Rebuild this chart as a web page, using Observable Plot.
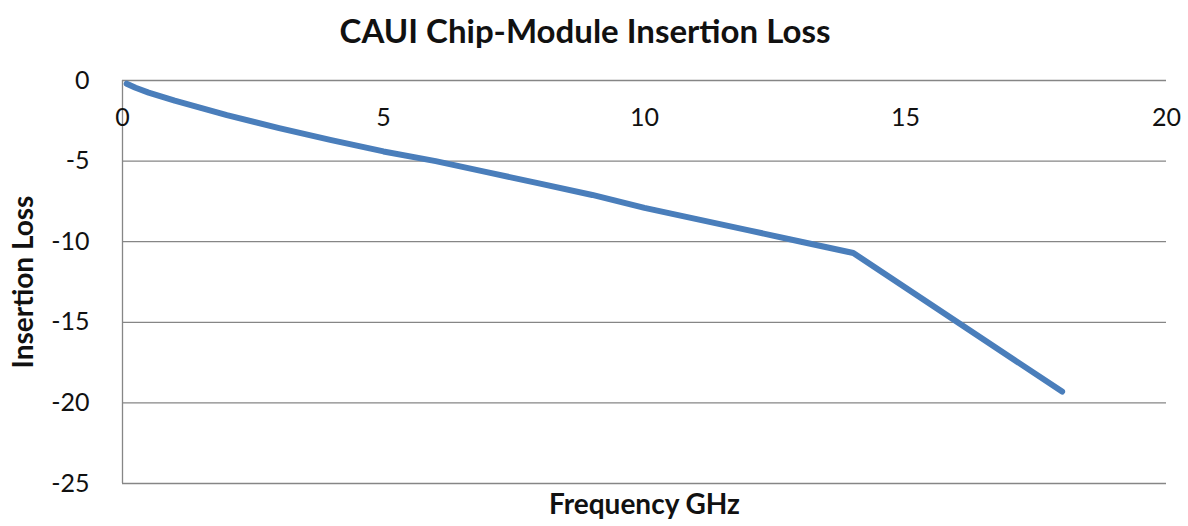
<!DOCTYPE html>
<html>
<head>
<meta charset="utf-8">
<script src="https://cdn.jsdelivr.net/npm/d3@7"></script>
<script src="https://cdn.jsdelivr.net/npm/@observablehq/plot@0.6"></script>
<style>
  html, body { margin: 0; padding: 0; background: #fff; }
  #title { height: 60px; line-height: 60px; text-align: center; font-family: Lato, "Open Sans", sans-serif; font-weight: bold; font-size: 33px; color: #111; padding-right: 18px; }
  #chart svg { display: block; }
</style>
</head>
<body>
<div id="title">CAUI Chip-Module Insertion Loss</div>
<div id="chart"></div>
<script>
const freqGHz = [0.08, 0.25, 0.5, 0.75, 1, 1.5, 2, 3, 4, 5, 6, 7, 8, 9, 10, 11, 12, 13, 14, 18];
const insertionLoss = [-0.2, -0.45, -0.75, -1.0, -1.25, -1.7, -2.15, -2.95, -3.7, -4.4, -5.0, -5.7, -6.4, -7.1, -7.9, -8.6, -9.3, -10.0, -10.7, -19.3];
const xTicks = [0, 5, 10, 15, 20];
const yTicks = [0, -5, -10, -15, -20, -25];
const xTitle = "Frequency GHz";
const yTitle = "Insertion Loss";

const data = freqGHz.map((f, i) => ({ f, loss: insertionLoss[i] }));
const font = "Lato, 'Open Sans', sans-serif";

const chart = Plot.plot({
  width: 1188,
  height: 466,
  marginLeft: 122,
  marginRight: 22,
  marginTop: 20,
  marginBottom: 43,
  style: { fontFamily: font, fontSize: "25px", color: "#111", background: "#fff" },
  x: { domain: [0, 20], axis: null },
  y: { domain: [-25, 0], axis: null },
  marks: [
    Plot.gridY(yTicks, { stroke: "#868686", strokeOpacity: 1, strokeWidth: 1.3 }),
    Plot.ruleX([0], { stroke: "#868686", strokeWidth: 1.3 }),
    Plot.axisY(yTicks, { tickSize: 0, tickPadding: 33, fontSize: 25, label: null, tickFormat: d => String(d).replace("−", "-") }),
    Plot.text(xTicks, { x: d => d, y: 0, dy: 37, text: d => String(d), fontSize: 25, fill: "#111" }),
    Plot.line(data, { x: "f", y: "loss", stroke: "#4a7ebb", strokeWidth: 6, strokeLinecap: "round", strokeLinejoin: "round" }),
    Plot.text([yTitle], { frameAnchor: "left", dx: -98, rotate: -90, textAnchor: "middle", lineAnchor: "middle", text: d => d, fontWeight: "bold", fontSize: 28, fill: "#111" }),
    Plot.text([xTitle], { frameAnchor: "bottom", dy: 22, textAnchor: "middle", lineAnchor: "middle", text: d => d, fontWeight: "bold", fontSize: 28, fill: "#111" })
  ]
});
document.getElementById("chart").appendChild(chart);
</script>
</body>
</html>
